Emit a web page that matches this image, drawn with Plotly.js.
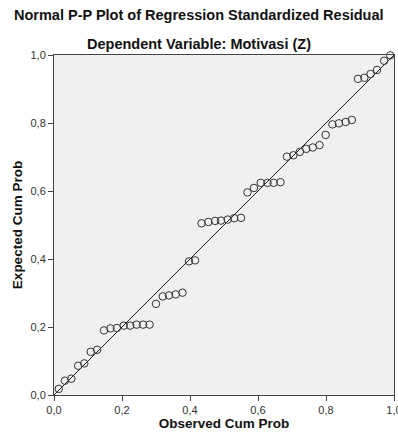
<!DOCTYPE html>
<html>
<head>
<meta charset="utf-8">
<script src="https://cdn.plot.ly/plotly-3.0.1.min.js"></script>
<style>html,body{margin:0;padding:0;background:#fff;}#chart{width:398px;height:436px;}</style>
</head>
<body>
<div id="chart"></div>
<script>
// Observed cumulative probability (x) and expected cumulative probability (y)
const observedCumProb = [0.014,0.032,0.051,0.071,0.089,0.108,0.127,0.147,0.166,0.185,
  0.205,0.224,0.243,0.262,0.281,0.300,0.320,0.338,0.358,0.378,
  0.397,0.415,0.434,0.454,0.474,0.491,0.511,0.530,0.550,0.569,
  0.588,0.608,0.628,0.646,0.666,0.685,0.704,0.723,0.742,0.761,
  0.781,0.799,0.819,0.838,0.858,0.876,0.894,0.913,0.931,0.950,
  0.971,0.989];
const expectedCumProb = [0.018,0.042,0.048,0.086,0.093,0.127,0.133,0.190,0.196,0.197,
  0.204,0.204,0.207,0.207,0.207,0.268,0.290,0.293,0.296,0.301,
  0.393,0.396,0.505,0.509,0.512,0.513,0.516,0.520,0.521,0.596,
  0.609,0.624,0.624,0.624,0.626,0.701,0.705,0.715,0.724,0.728,
  0.735,0.765,0.796,0.799,0.803,0.809,0.930,0.933,0.944,0.956,
  0.983,0.999];
const refLineX = [0, 1];
const refLineY = [0, 1];
const tickValues = [0, 0.2, 0.4, 0.6, 0.8, 1.0];
const tickLabels = ["0,0", "0,2", "0,4", "0,6", "0,8", "1,0"];

const titleText = "Normal P-P Plot of Regression Standardized Residual";
const subtitleText = "Dependent Variable: Motivasi (Z)";
const xTitle = "Observed Cum Prob";
const yTitle = "Expected Cum Prob";

const traces = [
  {x: refLineX, y: refLineY, mode: "lines", type: "scatter",
   line: {color: "#1a1a1a", width: 1}, hoverinfo: "skip", showlegend: false},
  {x: observedCumProb, y: expectedCumProb, mode: "markers", type: "scatter",
   marker: {symbol: "circle-open", size: 7.5, color: "#333333", line: {width: 1, color: "#333333"}},
   cliponaxis: false, showlegend: false}
];

const axisCommon = {
  range: [0, 1], showgrid: false, zeroline: false,
  showline: true, linecolor: "#444444", linewidth: 1, mirror: true,
  ticks: "outside", ticklen: 5, tickcolor: "#444444", tickwidth: 1,
  tickvals: tickValues, ticktext: tickLabels, ticklabeloverflow: "allow",
  tickfont: {family: "Liberation Sans, Arial, sans-serif", size: 11, color: "#333333"}
};

const layout = {
  width: 398, height: 436,
  margin: {l: 54, r: 4, t: 55, b: 41},
  paper_bgcolor: "#ffffff", plot_bgcolor: "#f0f0f0",
  font: {family: "Liberation Sans, Arial, sans-serif", color: "#222222"},
  xaxis: Object.assign({}, axisCommon, {
    title: {text: "<b>" + xTitle + "</b>", font: {size: 13.5, color: "#111111"}, standoff: 2}
  }),
  yaxis: Object.assign({}, axisCommon, {
    title: {text: "<b>" + yTitle + "</b>", font: {size: 13.5, color: "#111111"}, standoff: 4}
  }),
  annotations: [
    {text: "<b>" + titleText + "</b>", xref: "paper", yref: "paper", x: 0.427, y: 1, yshift: 40,
     xanchor: "center", yanchor: "middle", showarrow: false,
     font: {size: 14.5, color: "#111111"}},
    {text: "<b>" + subtitleText + "</b>", xref: "paper", yref: "paper", x: 0.427, y: 1, yshift: 11,
     xanchor: "center", yanchor: "middle", showarrow: false,
     font: {size: 14.5, color: "#111111"}}
  ],
  showlegend: false
};

Plotly.newPlot("chart", traces, layout, {displayModeBar: false, staticPlot: true});
</script>
</body>
</html>
